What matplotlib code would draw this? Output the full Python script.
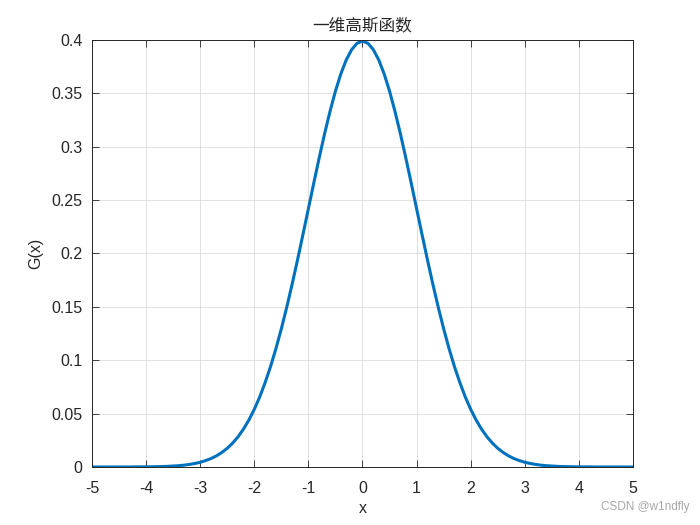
import numpy as np
import matplotlib
matplotlib.use("Agg")
import matplotlib.pyplot as plt

plt.rcParams['font.family'] = ['Liberation Sans', 'Noto Sans CJK SC', 'DejaVu Sans']

# values, x from -5 to 5 in steps of 0.1
x = np.linspace(-5, 5, 101)
g = [0.0000, 0.0000, 0.0000, 0.0000, 0.0000, 0.0000, 0.0000, 0.0000, 0.0001, 0.0001,
     0.0001, 0.0002, 0.0003, 0.0004, 0.0006, 0.0009, 0.0012, 0.0017, 0.0024, 0.0033,
     0.0044, 0.0060, 0.0079, 0.0104, 0.0136, 0.0175, 0.0224, 0.0283, 0.0355, 0.0440,
     0.0540, 0.0656, 0.0790, 0.0940, 0.1109, 0.1295, 0.1497, 0.1714, 0.1942, 0.2179,
     0.2420, 0.2661, 0.2897, 0.3123, 0.3332, 0.3521, 0.3683, 0.3814, 0.3910, 0.3970,
     0.3989,
     0.3970, 0.3910, 0.3814, 0.3683, 0.3521, 0.3332, 0.3123, 0.2897, 0.2661, 0.2420,
     0.2179, 0.1942, 0.1714, 0.1497, 0.1295, 0.1109, 0.0940, 0.0790, 0.0656, 0.0540,
     0.0440, 0.0355, 0.0283, 0.0224, 0.0175, 0.0136, 0.0104, 0.0079, 0.0060, 0.0044,
     0.0033, 0.0024, 0.0017, 0.0012, 0.0009, 0.0006, 0.0004, 0.0003, 0.0002, 0.0001,
     0.0001, 0.0001, 0.0000, 0.0000, 0.0000, 0.0000, 0.0000, 0.0000, 0.0000, 0.0000]
xticks = [-5, -4, -3, -2, -1, 0, 1, 2, 3, 4, 5]
yticks = [0, 0.05, 0.1, 0.15, 0.2, 0.25, 0.3, 0.35, 0.4]
ytick_labels = ['0', '0.05', '0.1', '0.15', '0.2', '0.25', '0.3', '0.35', '0.4']

fig = plt.figure(figsize=(7, 5.25), dpi=100)
ax = fig.add_axes([0.1314, 0.1105, 0.7729, 0.8133])

ax.plot(x, g, color='#0072BD', linewidth=2.2)

ax.set_xlim(-5, 5)
ax.set_ylim(0, 0.4)
ax.set_xticks(xticks)
ax.set_xticklabels([str(t) for t in xticks])
ax.set_yticks(yticks)
ax.set_yticklabels(ytick_labels)
ax.tick_params(direction='in', top=True, right=True, labelsize=11.5,
               length=5, width=0.6, color='#262626', labelcolor='#262626')
ax.tick_params(axis='x', pad=10)
ax.tick_params(axis='y', pad=7)
ax.grid(True, color='#dcdcdc', linewidth=0.6)
ax.set_axisbelow(True)
for s in ax.spines.values():
    s.set_linewidth(0.7)
    s.set_color('#262626')

ax.set_xlabel('x', fontsize=11.5, color='#262626', labelpad=4)
ax.set_ylabel('G(x)', fontsize=11.5, color='#262626', labelpad=6)
ax.set_title('一维高斯函数', fontsize=12, color='#262626',
             family=['Noto Sans CJK SC', 'DejaVu Sans'], pad=7)

fig.text(0.985, 0.022, 'CSDN @w1ndfly', ha='right', va='bottom',
         fontsize=8.5, color='#a8a8a8')

fig.savefig('out.png', dpi=100)
